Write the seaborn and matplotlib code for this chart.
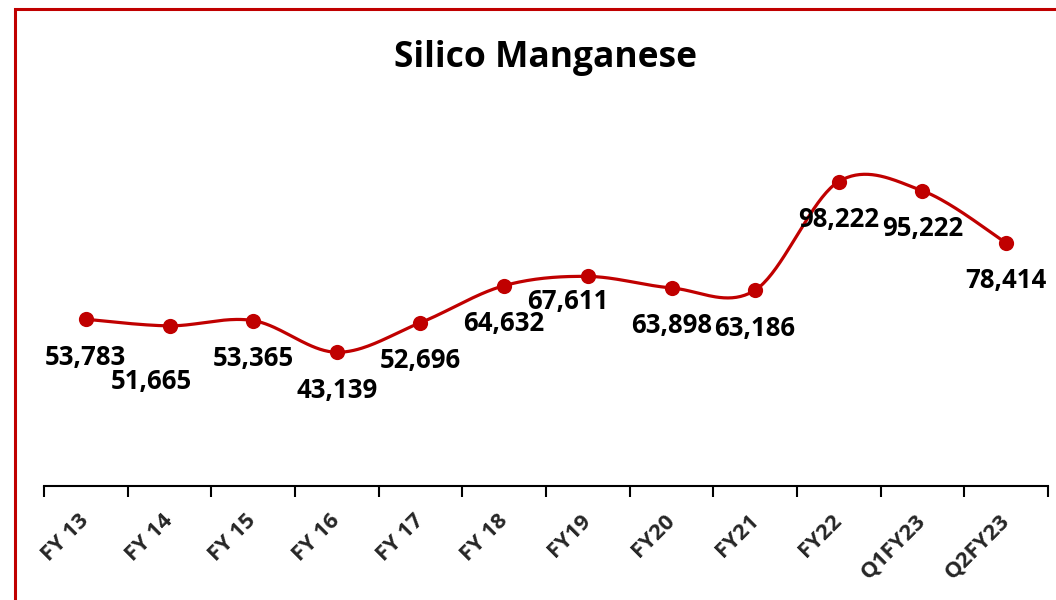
import numpy as np
import pandas as pd
import matplotlib
matplotlib.use("Agg")
import matplotlib.pyplot as plt
from matplotlib.patches import Rectangle
import seaborn as sns

# Silico manganese price series
periods = ["FY 13", "FY 14", "FY 15", "FY 16", "FY 17", "FY 18", "FY19",
           "FY20", "FY21", "FY22", "Q1FY23", "Q2FY23"]
prices = [53783, 51665, 53365, 43139, 52696, 64632, 67611,
          63898, 63186, 98222, 95222, 78414]

RED = "#C00000"
FONT = "Open Sans"

# data labels sit below each point; a couple were nudged by hand (pixel offsets)
LABEL_DEFAULT = (0, -38)
LABEL_NUDGE = {1: (-18, -56), 6: (-20, -25)}

sns.set_theme(style="white")
plt.rcParams["font.family"] = [FONT, "DejaVu Sans"]

df = pd.DataFrame({"x": np.arange(len(periods)), "price": prices})


def smooth_curve(xs, ys, steps=40):
    """Catmull-Rom style smoothing through the points (like a spreadsheet smoothed line)."""
    px = np.asarray(xs, float)
    py = np.asarray(ys, float)
    n = len(px)
    out_x, out_y = [], []
    for i in range(n - 1):
        i0, i3 = max(i - 1, 0), min(i + 2, n - 1)
        c1x = px[i] + (px[i + 1] - px[i0]) / 6
        c1y = py[i] + (py[i + 1] - py[i0]) / 6
        c2x = px[i + 1] - (px[i3] - px[i]) / 6
        c2y = py[i + 1] - (py[i3] - py[i]) / 6
        t = np.linspace(0, 1, steps, endpoint=(i == n - 2))
        b0, b1, b2, b3 = (1 - t) ** 3, 3 * (1 - t) ** 2 * t, 3 * (1 - t) * t ** 2, t ** 3
        out_x.append(b0 * px[i] + b1 * c1x + b2 * c2x + b3 * px[i + 1])
        out_y.append(b0 * py[i] + b1 * c1y + b2 * c2y + b3 * py[i + 1])
    return np.concatenate(out_x), np.concatenate(out_y)


fig = plt.figure(figsize=(10.56, 6.0), dpi=100)
ax = fig.add_axes([44 / 1056, 114 / 600, 1004 / 1056, 372 / 600])

sx, sy = smooth_curve(df["x"], df["price"])
ax.plot(sx, sy, color=RED, lw=2.3, solid_capstyle="round", zorder=2)
sns.scatterplot(data=df, x="x", y="price", ax=ax, color=RED, s=120,
                edgecolor=RED, linewidth=0, zorder=3, legend=False)

for i, (xi, v) in enumerate(zip(df["x"], df["price"])):
    ax.annotate(f"{v:,}", (xi, v), xytext=LABEL_NUDGE.get(i, LABEL_DEFAULT),
                textcoords="offset pixels", ha="center", va="center",
                fontsize=18.5, fontweight="bold", color="black",
                family=[FONT, "DejaVu Sans"], zorder=4)

ax.set_xlim(-0.5, len(periods) - 0.5)
ax.set_ylim(0, 120000)
ax.set_xlabel("")
ax.set_ylabel("")
ax.set_yticks([])

# boundary tick marks between categories, labels centred on categories
ax.set_xticks(np.arange(-0.5, len(periods), 1.0))
ax.set_xticklabels([])
ax.tick_params(axis="x", which="major", direction="out", length=8, width=1.5,
               color="black", bottom=True)
ax.set_xticks(np.arange(len(periods)), minor=True)
ax.set_xticklabels(periods, minor=True, rotation=45, ha="right", va="center",
                   rotation_mode="anchor", fontsize=16, fontweight="bold")
ax.tick_params(axis="x", which="minor", length=0, pad=23)

for side in ("top", "right", "left"):
    ax.spines[side].set_visible(False)
ax.spines["bottom"].set_color("black")
ax.spines["bottom"].set_linewidth(1.5)

fig.text(545 / 1056, 1 - 58 / 600, "Silico Manganese", ha="center", va="center",
         fontsize=25.5, fontweight="bold", color="black")

# chart frame
fig.add_artist(Rectangle((14.5 / 1056, -0.1), 1.2, 1 - 9 / 600 + 0.1,
                         transform=fig.transFigure, fill=False,
                         edgecolor=RED, linewidth=2.2))

fig.savefig("out.png", dpi=100)
